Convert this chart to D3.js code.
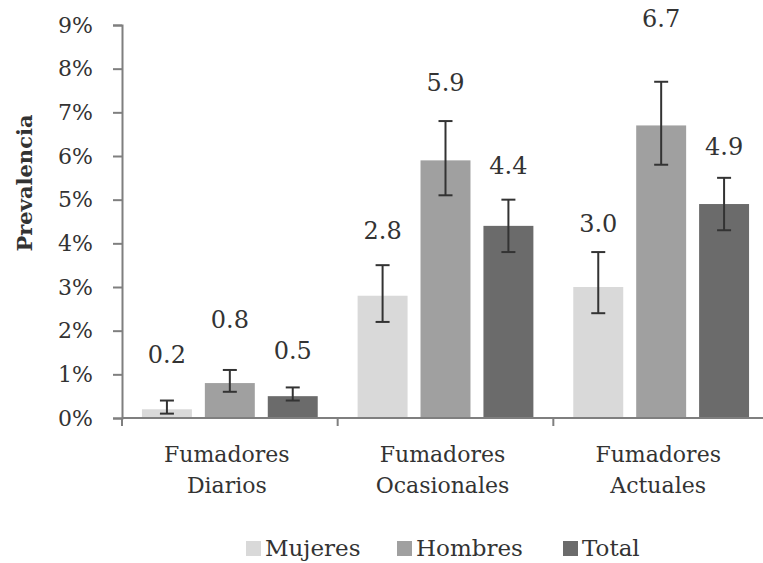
<!DOCTYPE html>
<html lang="es">
<head>
<meta charset="UTF-8">
<title>Prevalencia</title>
<script src="https://d3js.org/d3.v7.min.js"></script>
<style>
  body { margin: 0; background: #fff; }
  text { font-family: "DejaVu Serif", serif; fill: #333; }
</style>
</head>
<body>
<script>
// data
var categories = [["Fumadores", "Diarios"], ["Fumadores", "Ocasionales"], ["Fumadores", "Actuales"]];
var series = ["Mujeres", "Hombres", "Total"];
var mujeres = [0.2, 2.8, 3.0];
var hombres = [0.8, 5.9, 6.7];
var total = [0.5, 4.4, 4.9];
// confidence intervals (low, high)
var mujeresCI = [[0.1, 0.4], [2.2, 3.5], [2.4, 3.8]];
var hombresCI = [[0.6, 1.1], [5.1, 6.8], [5.8, 7.7]];
var totalCI = [[0.4, 0.7], [3.8, 5.0], [4.3, 5.5]];
var yTicks = [0, 1, 2, 3, 4, 5, 6, 7, 8, 9];

var colors = ["#d9d9d9", "#a0a0a0", "#6b6b6b"];
// label lift above the error bar, in px (labels were hand placed)
var lift = [[38, 26, 20], [42, 30, 55], [28, 26, 23]];

var w = 763, h = 563;
var svg = d3.select("body").append("svg").attr("width", w).attr("height", h);

var y = d3.scaleLinear().domain([0, 9]).range([418, 25]);
var x = d3.scaleBand().domain(d3.range(categories.length)).range([122, 769]);
var xs = d3.scaleBand().domain(series).range([0, x.bandwidth()])
           .paddingInner(0.206).paddingOuter(0.317);

var vals = [mujeres, hombres, total];
var cis = [mujeresCI, hombresCI, totalCI];

var rows = [];
series.forEach(function(s, si) {
  categories.forEach(function(c, ci) {
    rows.push({s: s, si: si, ci: ci, v: vals[si][ci], lo: cis[si][ci][0], hi: cis[si][ci][1]});
  });
});

// bars
svg.selectAll("rect.bar").data(rows).enter().append("rect")
  .attr("class", "bar")
  .attr("x", function(d) { return x(d.ci) + xs(d.s); })
  .attr("width", xs.bandwidth())
  .attr("y", function(d) { return y(d.v); })
  .attr("height", function(d) { return y(0) - y(d.v); })
  .attr("fill", function(d) { return colors[d.si]; });

// error bars
var eb = svg.selectAll("g.err").data(rows).enter().append("g")
  .attr("class", "err")
  .attr("transform", function(d) { return "translate(" + (x(d.ci) + xs(d.s) + xs.bandwidth() / 2) + ",0)"; })
  .attr("stroke", "#333").attr("stroke-width", 2);
eb.append("line").attr("y1", function(d) { return y(d.lo); }).attr("y2", function(d) { return y(d.hi); });
eb.append("line").attr("x1", -7).attr("x2", 7).attr("y1", function(d) { return y(d.lo); }).attr("y2", function(d) { return y(d.lo); });
eb.append("line").attr("x1", -7).attr("x2", 7).attr("y1", function(d) { return y(d.hi); }).attr("y2", function(d) { return y(d.hi); });

// value labels
svg.selectAll("text.val").data(rows).enter().append("text")
  .attr("class", "val")
  .attr("x", function(d) { return x(d.ci) + xs(d.s) + xs.bandwidth() / 2; })
  .attr("y", function(d) { return y(d.hi) - lift[d.si][d.ci]; })
  .attr("text-anchor", "middle")
  .style("font-size", "24px")
  .text(function(d) { return d.v.toFixed(1); });

// y axis
var yAxis = svg.append("g").attr("transform", "translate(122,0)")
  .call(d3.axisLeft(y).tickValues(yTicks).tickSize(9).tickPadding(20)
        .tickFormat(function(d) { return d + "%"; }));
yAxis.select(".domain").attr("stroke", "#7f7f7f").attr("stroke-width", 2);
yAxis.selectAll(".tick line").attr("stroke", "#7f7f7f").attr("stroke-width", 2);
yAxis.selectAll(".tick text").style("font-size", "22px").attr("fill", "#333");
yAxis.attr("font-family", null);

// x axis
var xAxis = svg.append("g").attr("transform", "translate(0,418)");
xAxis.append("line").attr("x1", x.range()[0]).attr("x2", x.range()[1])
  .attr("stroke", "#7f7f7f").attr("stroke-width", 2);
xAxis.selectAll("line.tk").data(d3.range(categories.length + 1)).enter().append("line")
  .attr("class", "tk")
  .attr("x1", function(d) { return x.range()[0] + d * x.step(); })
  .attr("x2", function(d) { return x.range()[0] + d * x.step(); })
  .attr("y1", 0).attr("y2", 8)
  .attr("stroke", "#7f7f7f").attr("stroke-width", 2);

var cat = svg.selectAll("text.cat").data(categories).enter().append("text")
  .attr("class", "cat")
  .attr("text-anchor", "middle")
  .style("font-size", "22px");
cat.each(function(d, i) {
  var t = d3.select(this);
  d.forEach(function(line, li) {
    t.append("tspan").attr("x", x(i) + x.bandwidth() / 2 - 3).attr("y", 462 + li * 31).text(line);
  });
});

// y title
svg.append("text")
  .attr("transform", "translate(32,183) rotate(-90)")
  .attr("text-anchor", "middle")
  .style("font-size", "21px").style("font-weight", "bold")
  .text("Prevalencia");

// legend
var legX = [246, 397, 563];
var leg = svg.selectAll("g.legend").data(series).enter().append("g")
  .attr("class", "legend")
  .attr("transform", function(d, i) { return "translate(" + legX[i] + ",541)"; });
leg.append("rect").attr("width", 15).attr("height", 15)
  .attr("fill", function(d, i) { return colors[i]; });
leg.append("text").attr("x", 19).attr("y", 15).style("font-size", "23px").text(function(d) { return d; });
</script>
</body>
</html>
